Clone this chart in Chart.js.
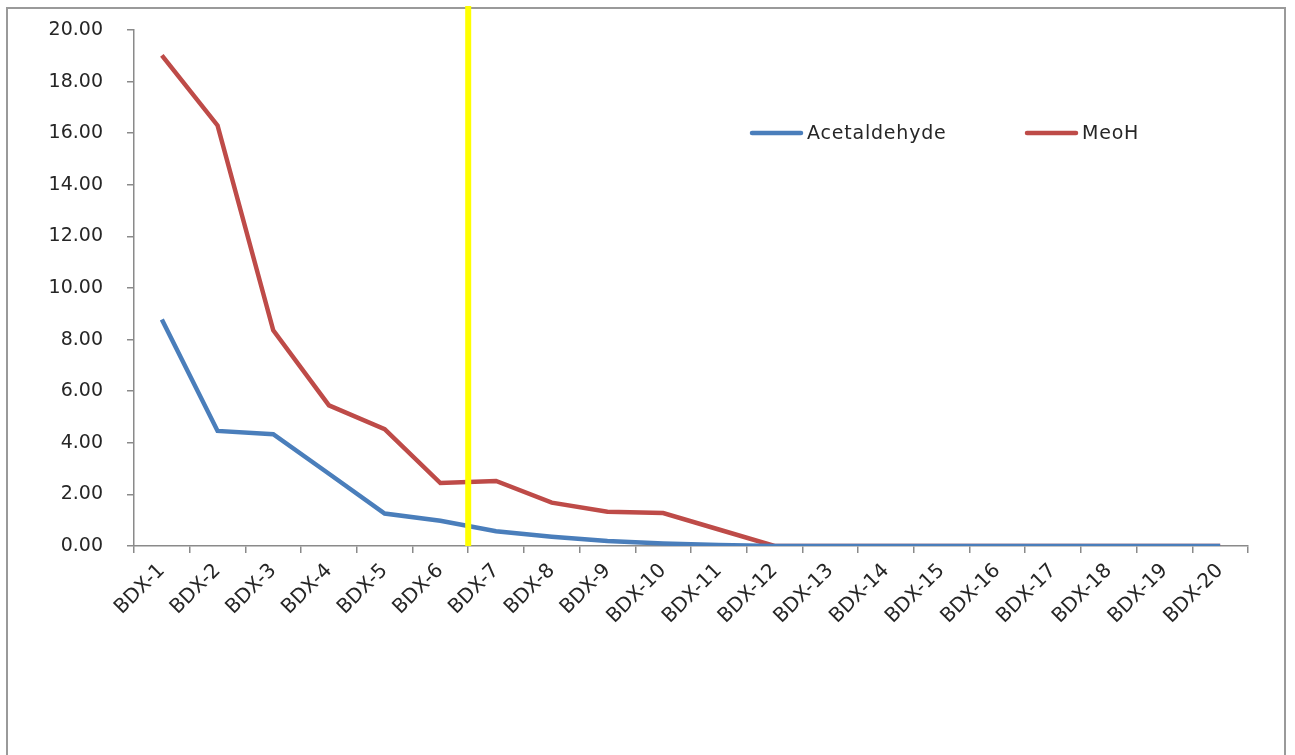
<!DOCTYPE html>
<html>
<head>
<meta charset="utf-8">
<title>Acetaldehyde and MeoH by fraction</title>
<script src="https://cdn.jsdelivr.net/npm/chart.js@4.4.1/dist/chart.umd.min.js"></script>
<style>
  html, body { margin: 0; padding: 0; background: #ffffff; }
  #wrap { position: relative; width: 1295px; height: 755px; }
</style>
</head>
<body>
<div id="wrap"><canvas id="chart" width="1295" height="755"></canvas></div>
<script>
// Fractions along the x axis
const categories = ['BDX-1','BDX-2','BDX-3','BDX-4','BDX-5','BDX-6','BDX-7','BDX-8','BDX-9','BDX-10',
                    'BDX-11','BDX-12','BDX-13','BDX-14','BDX-15','BDX-16','BDX-17','BDX-18','BDX-19','BDX-20'];

// Measured concentrations per fraction
const acetaldehyde = [8.78, 4.46, 4.33, 2.80, 1.26, 0.98, 0.57, 0.36, 0.19, 0.10,
                      0.04, 0.00, 0.00, 0.00, 0.00, 0.00, 0.00, 0.00, 0.00, 0.00];
const meoh = [19.02, 16.30, 8.36, 5.45, 4.53, 2.44, 2.52, 1.68, 1.33, 1.28,
              0.64, 0.00, 0.00, 0.00, 0.00, 0.00, 0.00, 0.00, 0.00, 0.00];

// Y axis range and tick step
const yMin = 0;
const yMax = 20;
const yStep = 2;

// Cut marker sits between these two fractions
const cutBetween = ['BDX-6', 'BDX-7'];

const FONT = 'DejaVu Sans';
const TEXT = '#262626';
const AXIS = '#8a8a8a';

// Outer frame of the chart object
const framePlugin = {
  id: 'frame',
  beforeDraw(chart) {
    const ctx = chart.ctx;
    ctx.save();
    ctx.fillStyle = '#ffffff';
    ctx.fillRect(0, 0, chart.width, chart.height);
    ctx.strokeStyle = '#9a9a9a';
    ctx.lineWidth = 2;
    ctx.beginPath();
    ctx.moveTo(7, chart.height + 5);
    ctx.lineTo(7, 8);
    ctx.lineTo(1285, 8);
    ctx.lineTo(1285, chart.height + 5);
    ctx.stroke();
    ctx.restore();
  }
};

// Vertical yellow cut line between two fractions
const cutLinePlugin = {
  id: 'cutLine',
  afterDatasetsDraw(chart) {
    const x = chart.scales.x;
    const y = chart.scales.y;
    const i0 = categories.indexOf(cutBetween[0]);
    const i1 = categories.indexOf(cutBetween[1]);
    const px = (x.getPixelForValue(i0) + x.getPixelForValue(i1)) / 2;
    const ctx = chart.ctx;
    ctx.save();
    ctx.strokeStyle = '#ffff00';
    ctx.lineWidth = 6;
    ctx.beginPath();
    ctx.moveTo(px, 6);
    ctx.lineTo(px, y.getPixelForValue(yMin));
    ctx.stroke();
    ctx.restore();
  }
};

// Legend drawn inside the plot area, line sample followed by the label
const insideLegendPlugin = {
  id: 'insideLegend',
  afterDraw(chart) {
    const ctx = chart.ctx;
    const entries = [
      { ds: chart.data.datasets[0], x: 752 },
      { ds: chart.data.datasets[1], x: 1027 }
    ];
    const cy = 133;
    ctx.save();
    ctx.font = '19px "' + FONT + '"';
    ctx.letterSpacing = '0.8px';
    ctx.textBaseline = 'middle';
    ctx.textAlign = 'left';
    entries.forEach(e => {
      ctx.strokeStyle = e.ds.borderColor;
      ctx.lineWidth = 4.5;
      ctx.lineCap = 'round';
      ctx.beginPath();
      ctx.moveTo(e.x, cy);
      ctx.lineTo(e.x + 49, cy);
      ctx.stroke();
      ctx.fillStyle = TEXT;
      ctx.fillText(e.ds.label, e.x + 55, cy + 1);
    });
    ctx.restore();
  }
};

new Chart(document.getElementById('chart'), {
  type: 'line',
  data: {
    labels: categories,
    datasets: [
      {
        label: 'Acetaldehyde',
        data: acetaldehyde,
        borderColor: '#4a7ebb',
        borderWidth: 4.5,
        pointRadius: 0,
        tension: 0,
        fill: false
      },
      {
        label: 'MeoH',
        data: meoh,
        borderColor: '#be4b48',
        borderWidth: 4.5,
        pointRadius: 0,
        tension: 0,
        fill: false
      }
    ]
  },
  options: {
    responsive: false,
    animation: false,
    devicePixelRatio: 1,
    layout: { padding: { top: 30, right: 47, bottom: 0, left: 0 } },
    plugins: {
      legend: { display: false },
      tooltip: { enabled: false }
    },
    scales: {
      x: {
        type: 'category',
        offset: true,
        grid: {
          offset: true,
          drawOnChartArea: false,
          drawTicks: true,
          tickLength: 7,
          color: AXIS,
          lineWidth: 1.5
        },
        border: { display: true, color: AXIS, width: 1.5 },
        ticks: {
          autoSkip: false,
          maxRotation: 45,
          minRotation: 45,
          padding: 6,
          color: TEXT,
          font: { family: FONT, size: 20 }
        },
        afterFit(scale) { scale.height = 209; }
      },
      y: {
        min: yMin,
        max: yMax,
        grid: {
          drawOnChartArea: false,
          drawTicks: true,
          tickLength: 7,
          color: AXIS,
          lineWidth: 1.5
        },
        border: { display: true, color: AXIS, width: 1.5 },
        ticks: {
          stepSize: yStep,
          padding: 24,
          color: TEXT,
          font: { family: FONT, size: 19 },
          callback: v => Number(v).toFixed(2)
        },
        afterFit(scale) {
          scale.width = 134;
          // only the half label height is needed above and below the axis
          scale.paddingTop = 12;
          scale.paddingBottom = 12;
        }
      }
    }
  },
  plugins: [framePlugin, cutLinePlugin, insideLegendPlugin]
});
</script>
</body>
</html>
